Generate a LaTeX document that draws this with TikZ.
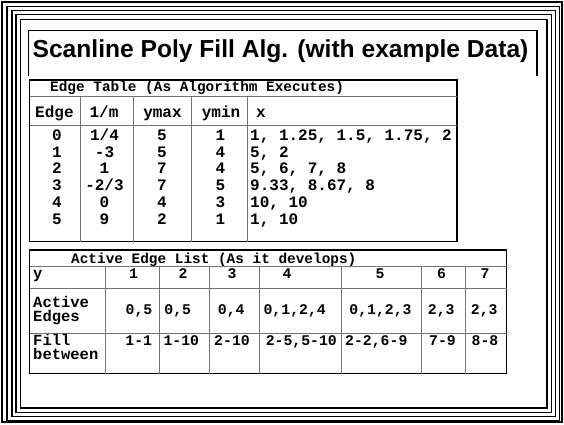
\documentclass[tikz,border=0pt]{standalone}
\usepackage{fontspec}
\setmainfont{Liberation Sans}
\setmonofont{Liberation Mono}

\begin{document}
\begin{tikzpicture}[
  x=1pt, y=-1pt,
  frame/.style={draw, line width=1.2pt},
  box/.style={draw, line width=1.3pt},
  rule/.style={draw=black!55, line width=0.9pt},
  ttl/.style={font=\ttfamily\bfseries\fontsize{14.4}{16}\selectfont, inner sep=0pt, anchor=base west},
  hcell/.style={font=\ttfamily\bfseries\fontsize{16}{16.7}\selectfont, inner sep=0pt, anchor=base},
  col/.style={hcell, align=center},
  acell/.style={font=\ttfamily\bfseries\fontsize{14.8}{16}\selectfont, inner sep=0pt, anchor=base},
  alabel/.style={font=\ttfamily\bfseries\fontsize{15.5}{14}\selectfont, inner sep=0pt, anchor=base west, align=left}
]
\useasboundingbox (0,0) rectangle (564,424);

% nested slide frame
\draw[line width=2.4pt] (2,2) rectangle (562,422);
\draw[frame] (7,6.5) rectangle (559.5,420.5);
\draw[frame] (12,10.5) rectangle (555.5,416.5);
\draw[frame] (16,14.5) rectangle (551.5,412.5);
\draw[frame] (20.5,19.5) rectangle (547,408);

% title
\draw[box] (28.5,76) -- (28.5,30.5) -- (537,30.5) -- (537,76);
\node[font=\bfseries\fontsize{24.6}{28}\selectfont, inner sep=0pt, anchor=base] (title) at (280.5,57)
  {Scanline Poly Fill Alg. (with example Data)};

% edge table
\draw[box] (29.5,80) rectangle (457,241.5);
\draw[rule] (29.5,96.5) -- (457,96.5);
\draw[rule] (29.5,125) -- (457,125);
\draw[rule] (80,96.5) -- (80,241.5);
\draw[rule] (133.5,96.5) -- (133.5,241.5);
\draw[rule] (191,96.5) -- (191,241.5);
\draw[rule] (247,96.5) -- (247,241.5);

\node[ttl] (etitle) at (50,91) {Edge Table (As Algorithm Executes)};
\node[hcell, anchor=base west] (hedge) at (35,117.5) {Edge};
\node[hcell] (hslope) at (104,117.5) {1/m};
\node[hcell] (hymax) at (162.5,117.5) {ymax};
\node[hcell] (hymin) at (221,117.5) {ymin};
\node[hcell, anchor=base west] (hx) at (256,117.5) {x};

% multi-line cells: base is the last line
\node[col] (cedge) at (57,224) {0\\1\\2\\3\\4\\5};
\node[col] (cslope) at (104.5,224) {1/4\\-3\\1\\-2/3\\0\\9};
\node[col] (cymax) at (162,224) {5\\5\\7\\7\\4\\2};
\node[col] (cymin) at (220.5,224) {1\\4\\4\\5\\3\\1};
\node[col, align=left, anchor=base west] (cx) at (250,224)
  {1, 1.25, 1.5, 1.75, 2\\5, 2\\5, 6, 7, 8\\9.33, 8.67, 8\\10, 10\\1, 10};

% active edge list
\draw[box] (29.5,250) rectangle (506.5,373.5);
\draw[rule] (29.5,266) -- (506.5,266);
\draw[rule] (29.5,288.5) -- (506.5,288.5);
\draw[rule] (29.5,333) -- (506.5,333);
\draw[rule] (105,266) -- (105,373.5);
\draw[rule] (159.5,266) -- (159.5,373.5);
\draw[rule] (209.5,266) -- (209.5,373.5);
\draw[rule] (259.5,266) -- (259.5,373.5);
\draw[rule] (341.5,266) -- (341.5,373.5);
\draw[rule] (421.5,266) -- (421.5,373.5);
\draw[rule] (465,266) -- (465,373.5);

\node[ttl] (atitle) at (71,263) {Active Edge List (As it develops)};
\node[alabel] (ly) at (33,278) {y};
\node[alabel] (lact) at (33,321) {Active\\Edges};
\node[alabel] (lfill) at (33,359) {Fill\\between};

\node[acell] (y1) at (133.5,278) {1};
\node[acell] (y2) at (183,278) {2};
\node[acell] (y3) at (232,278) {3};
\node[acell] (y4) at (287,278) {4};
\node[acell] (y5) at (380,278) {5};
\node[acell] (y6) at (441.5,278) {6};
\node[acell] (y7) at (485,278) {7};

\node[acell] (a1) at (139,314) {0,5};
\node[acell] (a2) at (177.7,314) {0,5};
\node[acell] (a3) at (231.3,314) {0,4};
\node[acell] (a4) at (294.7,314) {0,1,2,4};
\node[acell] (a5) at (380.5,314) {0,1,2,3};
\node[acell] (a6) at (441.3,314) {2,3};
\node[acell] (a7) at (484.3,314) {2,3};

\node[acell] (f1) at (138.8,345) {1-1};
\node[acell] (f2) at (181.3,345) {1-10};
\node[acell] (f3) at (232,345) {2-10};
\node[acell] (f4) at (301.3,345) {2-5,5-10};
\node[acell] (f5) at (376.3,345) {2-2,6-9};
\node[acell] (f6) at (442.5,345) {7-9};
\node[acell] (f7) at (485,345) {8-8};
\end{tikzpicture}
\end{document}
